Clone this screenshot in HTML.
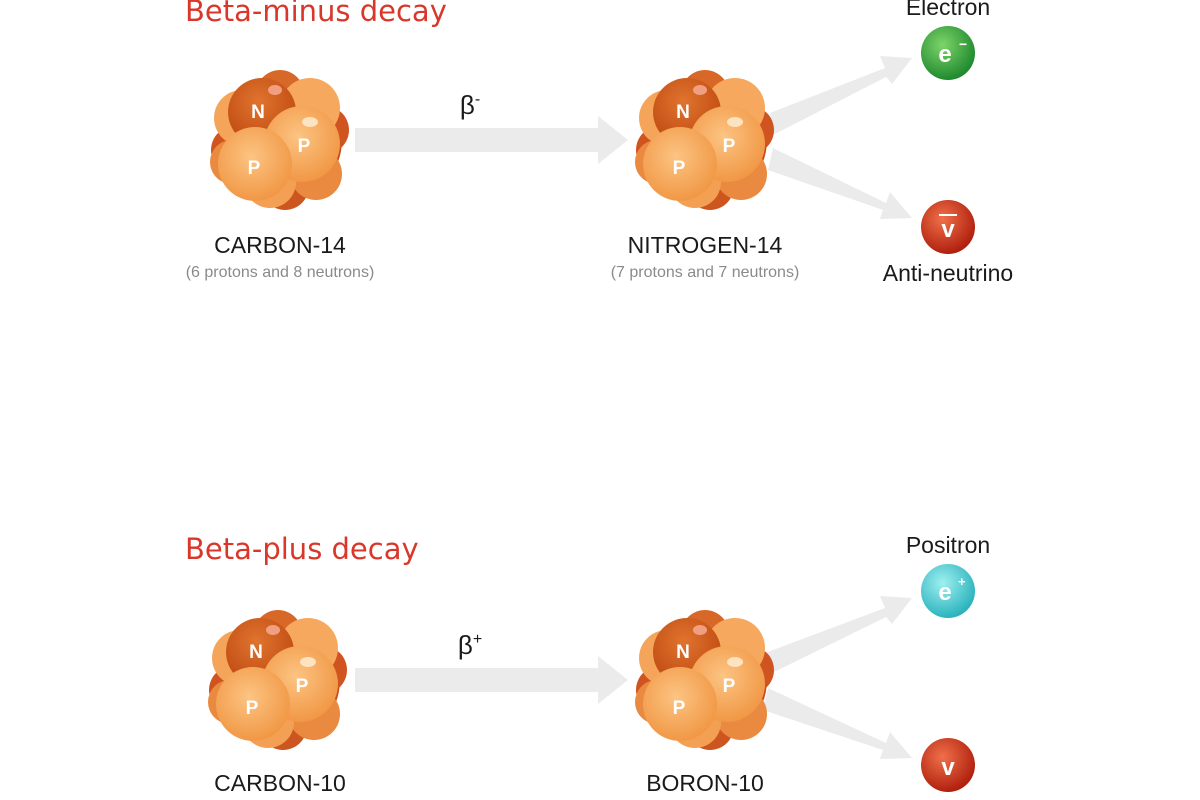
<!DOCTYPE html>
<html><head><meta charset="utf-8"><style>
html,body{margin:0;padding:0;background:#fff;}
svg{display:block;}
</style></head><body>
<svg width="1200" height="800" viewBox="0 0 1200 800" xmlns="http://www.w3.org/2000/svg" font-family="Liberation Sans, sans-serif">
<defs>
<radialGradient id="gg" cx="40%" cy="35%" r="65%"><stop offset="0" stop-color="#7ed46a"/><stop offset="1" stop-color="#1f8a2e"/></radialGradient>
<radialGradient id="rg" cx="40%" cy="35%" r="65%"><stop offset="0" stop-color="#f0704a"/><stop offset="1" stop-color="#b0200e"/></radialGradient>
<radialGradient id="cg" cx="40%" cy="35%" r="65%"><stop offset="0" stop-color="#9ef0f0"/><stop offset="1" stop-color="#2cb3bd"/></radialGradient>
<radialGradient id="ng" cx="45%" cy="35%" r="65%"><stop offset="0" stop-color="#e0742e"/><stop offset="1" stop-color="#bf4a12"/></radialGradient>
<radialGradient id="pg" cx="45%" cy="40%" r="65%"><stop offset="0" stop-color="#fcc483"/><stop offset="1" stop-color="#f09440"/></radialGradient>
<g id="nuc">
  <circle cx="0" cy="0" r="62" fill="#c84a1c"/>
  <circle cx="-45" cy="10" r="24" fill="#d05420"/>
  <circle cx="45" cy="-10" r="24" fill="#d05420"/>
  <circle cx="0" cy="-46" r="24" fill="#d86828"/>
  <circle cx="5" cy="46" r="24" fill="#cc5520"/>
  <circle cx="30" cy="-32" r="30" fill="#f6a85e"/>
  <circle cx="-38" cy="-22" r="28" fill="#f5a55a"/>
  <circle cx="36" cy="34" r="26" fill="#e98a40"/>
  <circle cx="-10" cy="42" r="26" fill="#f3a055"/>
  <circle cx="-48" cy="22" r="22" fill="#e98a40"/>
  <circle cx="-18" cy="-28" r="34" fill="url(#ng)"/>
  <ellipse cx="-5" cy="-50" rx="7" ry="5" fill="#f0a080"/>
  <circle cx="22" cy="4" r="38" fill="url(#pg)"/>
  <circle cx="-25" cy="24" r="37" fill="url(#pg)"/>
  <ellipse cx="30" cy="-18" rx="8" ry="5" fill="#fde3c0"/>
  <text x="-22" y="-22" font-size="19" font-weight="bold" fill="#fff" text-anchor="middle">N</text>
  <text x="24" y="12" font-size="19" font-weight="bold" fill="#fff" text-anchor="middle">P</text>
  <text x="-26" y="34" font-size="19" font-weight="bold" fill="#fff" text-anchor="middle">P</text>
</g>
</defs>

<text x="185" y="21" font-family="DejaVu Sans, sans-serif" font-size="29" fill="#d9372a">Beta-minus decay</text>
<text x="185" y="559" font-family="DejaVu Sans, sans-serif" font-size="29" fill="#d9372a">Beta-plus decay</text>

<g fill="#ebebeb">
  <polygon points="355,128 598,128 598,116 628,140 598,164 598,152 355,152"/>
  <polygon points="355,668 598,668 598,656 628,680 598,704 598,692 355,692"/>
  <polygon points="770,113 885,68 880,56 912,58 892,84 886,77 773,135"/>
  <polygon points="773,148 886,203 890,192 912,218 880,219 883,210 768,170"/>
  <polygon points="765,653 885,608 880,596 912,598 892,624 886,617 768,675"/>
  <polygon points="768,688 886,743 890,732 912,758 880,759 883,750 763,710"/>
</g>

<use href="#nuc" x="280" y="140"/>
<use href="#nuc" x="705" y="140"/>
<use href="#nuc" x="278" y="680"/>
<use href="#nuc" x="705" y="680"/>

<circle cx="948" cy="53" r="27" fill="url(#gg)"/>
<text x="945" y="62" font-size="24" font-weight="bold" fill="#fff" text-anchor="middle">e</text>
<text x="959" y="49" font-size="14" font-weight="bold" fill="#fff">−</text>
<circle cx="948" cy="227" r="27" fill="url(#rg)"/>
<line x1="939" y1="215" x2="957" y2="215" stroke="#fff" stroke-width="2"/>
<text x="948" y="237" font-size="24" font-weight="bold" fill="#fff" text-anchor="middle">v</text>
<circle cx="948" cy="591" r="27" fill="url(#cg)"/>
<text x="945" y="600" font-size="24" font-weight="bold" fill="#fff" text-anchor="middle">e</text>
<text x="958" y="586" font-size="13" font-weight="bold" fill="#fff">+</text>
<circle cx="948" cy="765" r="27" fill="url(#rg)"/>
<text x="948" y="775" font-size="24" font-weight="bold" fill="#fff" text-anchor="middle">v</text>

<g fill="#1a1a1a" font-size="23" text-anchor="middle">
  <text x="948" y="15">Electron</text>
  <text x="948" y="281">Anti-neutrino</text>
  <text x="948" y="553">Positron</text>
  <text x="948" y="819">Neutrino</text>
  <text x="280" y="253">CARBON-14</text>
  <text x="705" y="253">NITROGEN-14</text>
  <text x="280" y="791">CARBON-10</text>
  <text x="705" y="791">BORON-10</text>
  <text x="470" y="114" font-size="26">β<tspan font-size="16" dy="-10">-</tspan></text>
  <text x="470" y="654" font-size="26">β<tspan font-size="16" dy="-10">+</tspan></text>
</g>
<g fill="#8a8a8a" font-size="16" text-anchor="middle">
  <text x="280" y="277">(6 protons and 8 neutrons)</text>
  <text x="705" y="277">(7 protons and 7 neutrons)</text>
</g>
</svg>
</body></html>
